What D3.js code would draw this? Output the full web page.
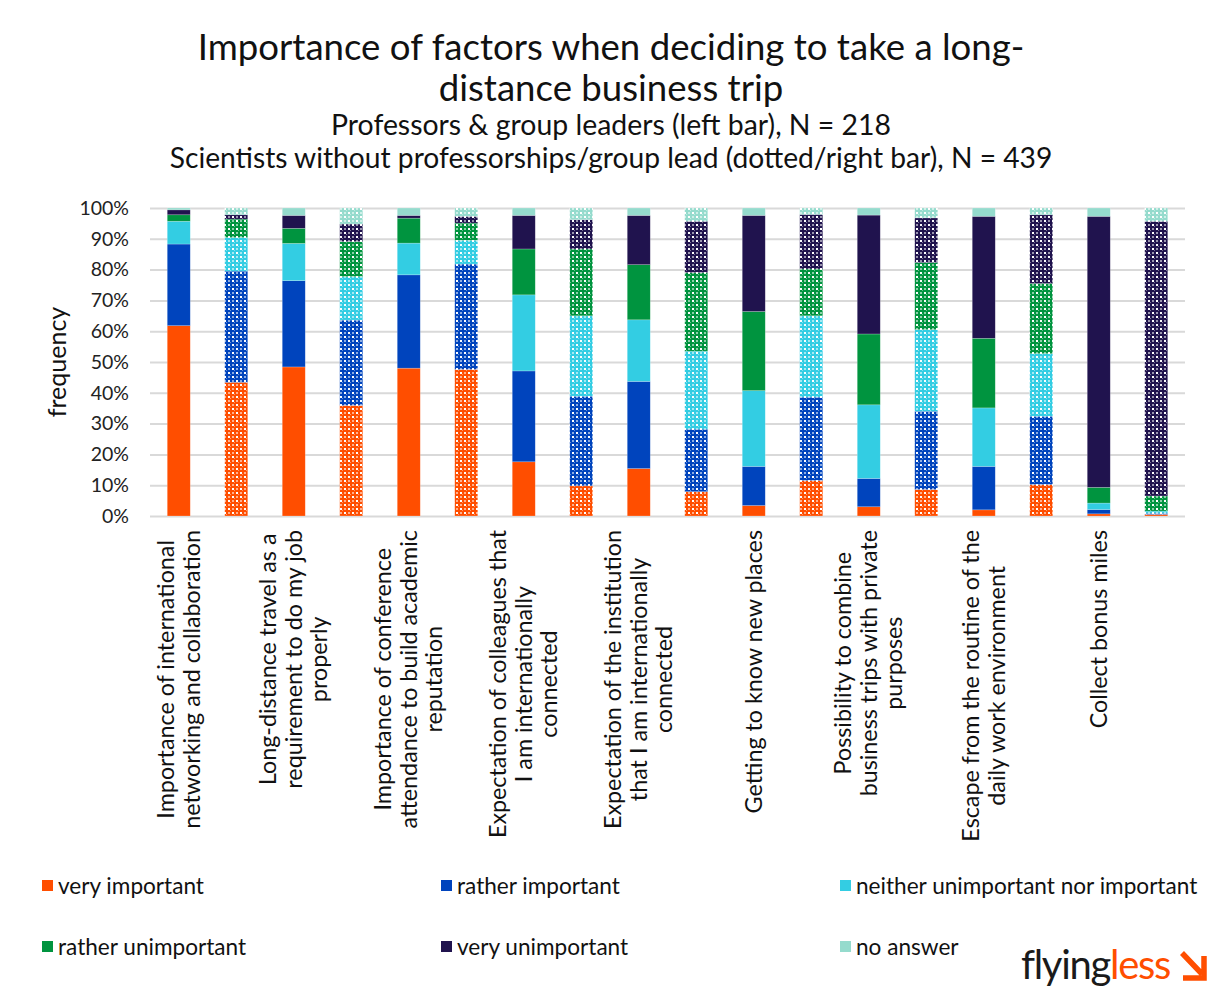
<!DOCTYPE html>
<html>
<head>
<meta charset="utf-8">
<script src="https://cdn.jsdelivr.net/npm/d3@7"></script>
<style>
  html, body { margin: 0; padding: 0; background: #fff; }
  svg { display: block; font-family: "Lato", "Open Sans", sans-serif; }
</style>
</head>
<body>
<svg id="chart" width="1208" height="990"></svg>
<script>
// ---------- DATA ----------
const categories = [
  ["Importance of international", "networking and collaboration"],
  ["Long-distance travel as a", "requirement to do my job", "properly"],
  ["Importance of conference", "attendance to build academic", "reputation"],
  ["Expectation of colleagues that", "I am internationally", "connected"],
  ["Expectation of the institution", "that I am internationally", "connected"],
  ["Getting to know new places"],
  ["Possibility to combine", "business trips with private", "purposes"],
  ["Escape from the routine of the", "daily work environment"],
  ["Collect bonus miles"]
];
const seriesNames = ["very important", "rather important", "neither unimportant nor important",
                     "rather unimportant", "very unimportant", "no answer"];
const seriesColors = ["#ff4e00", "#0044bd", "#33cde3", "#00943f", "#20134e", "#95dbcd"];
const yTicks = [0, 10, 20, 30, 40, 50, 60, 70, 80, 90, 100];

// Professors & group leaders (left bar), per category, percent
const profVeryImportant      = [61.8, 48.4, 48.0, 17.6, 15.4,  3.4,  3.0,  2.0,  0.7];
const profRatherImportant    = [26.5, 28.0, 30.3, 29.5, 28.3, 12.7,  9.2, 14.1,  1.4];
const profNeither            = [ 7.4, 12.1, 10.3, 24.7, 20.0, 24.6, 23.9, 19.0,  2.1];
const profRatherUnimportant  = [ 2.1,  4.9,  8.1, 14.9, 17.9, 25.7, 23.0, 22.6,  5.1];
const profVeryUnimportant    = [ 1.6,  4.2,  0.9, 10.9, 16.0, 31.2, 38.6, 39.6, 88.0];
const profNoAnswer           = [ 0.6,  2.4,  2.4,  2.4,  2.4,  2.4,  2.3,  2.7,  2.7];

// Scientists without professorships/group lead (dotted/right bar)
const sciVeryImportant       = [43.4, 35.9, 47.6,  9.8,  7.9, 11.5,  8.6, 10.2,  0.5];
const sciRatherImportant     = [36.1, 27.7, 34.2, 29.1, 20.3, 27.1, 25.4, 22.2,  0.4];
const sciNeither             = [10.9, 14.1,  7.7, 26.1, 25.3, 26.4, 26.5, 20.3,  0.7];
const sciRatherUnimportant   = [ 6.0, 11.4,  5.6, 21.7, 25.5, 15.2, 21.8, 22.8,  4.9];
const sciVeryUnimportant     = [ 1.4,  5.7,  2.2,  9.5, 16.7, 17.7, 14.5, 22.3, 89.2];
const sciNoAnswer            = [ 2.2,  5.2,  2.7,  3.8,  4.3,  2.1,  3.2,  2.2,  4.3];

// ---------- BUILD TABLE ----------
const profSeries = [profVeryImportant, profRatherImportant, profNeither, profRatherUnimportant, profVeryUnimportant, profNoAnswer];
const sciSeries  = [sciVeryImportant, sciRatherImportant, sciNeither, sciRatherUnimportant, sciVeryUnimportant, sciNoAnswer];
const rows = [];
categories.forEach((c, i) => {
  const p = { idx: rows.length, group: "prof", cat: i };
  const s = { idx: rows.length + 1, group: "sci", cat: i };
  seriesNames.forEach((n, k) => { p[n] = profSeries[k][i]; s[n] = sciSeries[k][i]; });
  rows.push(p, s);
});

const svg = d3.select("#chart");

// ---------- PATTERNS ----------
const defs = svg.append("defs");
seriesColors.forEach((c, k) => {
  const pat = defs.append("pattern").attr("id", "dot" + k)
    .attr("patternUnits", "userSpaceOnUse").attr("width", 8).attr("height", 8);
  pat.append("rect").attr("width", 8).attr("height", 8).attr("fill", c);
  pat.append("rect").attr("x", 0).attr("y", 0).attr("width", 2).attr("height", 2).attr("fill", "#fff");
  pat.append("rect").attr("x", 4).attr("y", 4).attr("width", 2).attr("height", 2).attr("fill", "#fff");
  pat.append("rect").attr("x", 4).attr("y", 0).attr("width", 2).attr("height", 2).attr("fill", "#fff").attr("opacity", 0.55);
  pat.append("rect").attr("x", 0).attr("y", 4).attr("width", 2).attr("height", 2).attr("fill", "#fff").attr("opacity", 0.55);
  pat.append("rect").attr("x", 2).attr("y", 2).attr("width", 1).attr("height", 1).attr("fill", "#fff").attr("opacity", 0.4);
  pat.append("rect").attr("x", 6).attr("y", 6).attr("width", 1).attr("height", 1).attr("fill", "#fff").attr("opacity", 0.4);
});

// ---------- TITLES ----------
const titleG = svg.append("g").attr("fill", "#111").attr("text-anchor", "middle");
titleG.append("text").attr("x", 611).attr("y", 60).attr("font-size", 36.6)
  .text("Importance of factors when deciding to take a long-");
titleG.append("text").attr("x", 611).attr("y", 101).attr("font-size", 36.6)
  .text("distance business trip");
titleG.append("text").attr("x", 611).attr("y", 135).attr("font-size", 28.4)
  .text("Professors & group leaders (left bar), N = 218");
titleG.append("text").attr("x", 611).attr("y", 168).attr("font-size", 28.2)
  .text("Scientists without professorships/group lead (dotted/right bar), N = 439");

// ---------- SCALES ----------
const x = d3.scaleBand().domain(d3.range(rows.length)).range([150, 1185])
  .paddingInner(0.6).paddingOuter(0.3);
const y = d3.scaleLinear().domain([0, 100]).range([516, 208]);

// ---------- GRID + Y AXIS ----------
const yAxis = svg.append("g").attr("transform", "translate(150,0)")
  .call(d3.axisLeft(y).tickValues(yTicks).tickFormat(d => d + "%")
        .tickSizeInner(-1035).tickSizeOuter(0).tickPadding(21));
yAxis.select(".domain").remove();
yAxis.selectAll(".tick line").attr("stroke", "#d9d9d9").attr("stroke-width", 2);
yAxis.selectAll(".tick text").attr("font-size", 19.5).attr("fill", "#222")
  .attr("font-family", "Lato, sans-serif");

svg.append("text").attr("transform", "translate(66,362) rotate(-90)")
  .attr("text-anchor", "middle").attr("font-size", 25).attr("fill", "#111")
  .text("frequency");

// ---------- BARS ----------
const stack = d3.stack().keys(seriesNames);
const stacked = stack(rows);
const layers = svg.append("g").selectAll("g").data(stacked).join("g");
layers.selectAll("rect").data((d, k) => d.map(v => ({ v, k })))
  .join("rect")
  .attr("x", d => x(d.v.data.idx))
  .attr("width", x.bandwidth())
  .attr("y", d => y(d.v[1]))
  .attr("height", d => Math.max(0, y(d.v[0]) - y(d.v[1])))
  .attr("fill", d => d.v.data.group === "prof" ? seriesColors[d.k] : `url(#dot${d.k})`)
  .attr("stroke", "#fff").attr("stroke-opacity", 0.35).attr("stroke-width", 0.6);

// ---------- X LABELS ----------
const lineH = 25.5;
const labelG = svg.append("g").attr("fill", "#111").attr("font-size", 23.3);
categories.forEach((lines, i) => {
  const cx = x(i * 2) + x.bandwidth() / 2;
  const g = labelG.append("g");
  const t = g.append("text").attr("text-anchor", "middle");
  lines.forEach((ln, j) => {
    t.append("tspan").attr("x", 0).attr("y", (j - (lines.length - 1) / 2) * lineH + 8).text(ln);
  });
  const wMax = d3.max(t.selectAll("tspan").nodes(), n => n.getComputedTextLength());
  g.attr("transform", `translate(${cx},${530 + wMax / 2}) rotate(-90)`);
});

// ---------- LEGEND ----------
const legX = [42, 441, 840];
const legY = [886, 947];
const leg = svg.append("g").attr("font-size", 22.6).attr("fill", "#111");
seriesNames.forEach((n, k) => {
  const lx = legX[k % 3], ly = legY[Math.floor(k / 3)];
  leg.append("rect").attr("x", lx).attr("y", ly - 6).attr("width", 11).attr("height", 11)
    .attr("fill", seriesColors[k]);
  leg.append("text").attr("x", lx + 16).attr("y", ly + 8).text(n);
});

// ---------- LOGO ----------
const logo = svg.append("text").attr("x", 1021).attr("y", 979).attr("font-size", 40)
  .attr("letter-spacing", -1.3);
logo.append("tspan").attr("fill", "#1a1a1a").text("flying");
logo.append("tspan").attr("fill", "#ff4e00").text("less");
svg.append("path")
  .attr("d", "M1182,953 L1202,974 M1204,956 L1204,978 L1183,978")
  .attr("fill", "none").attr("stroke", "#ff4e00").attr("stroke-width", 5.5)
  .attr("stroke-linejoin", "miter").attr("stroke-linecap", "butt");
</script>
</body>
</html>
